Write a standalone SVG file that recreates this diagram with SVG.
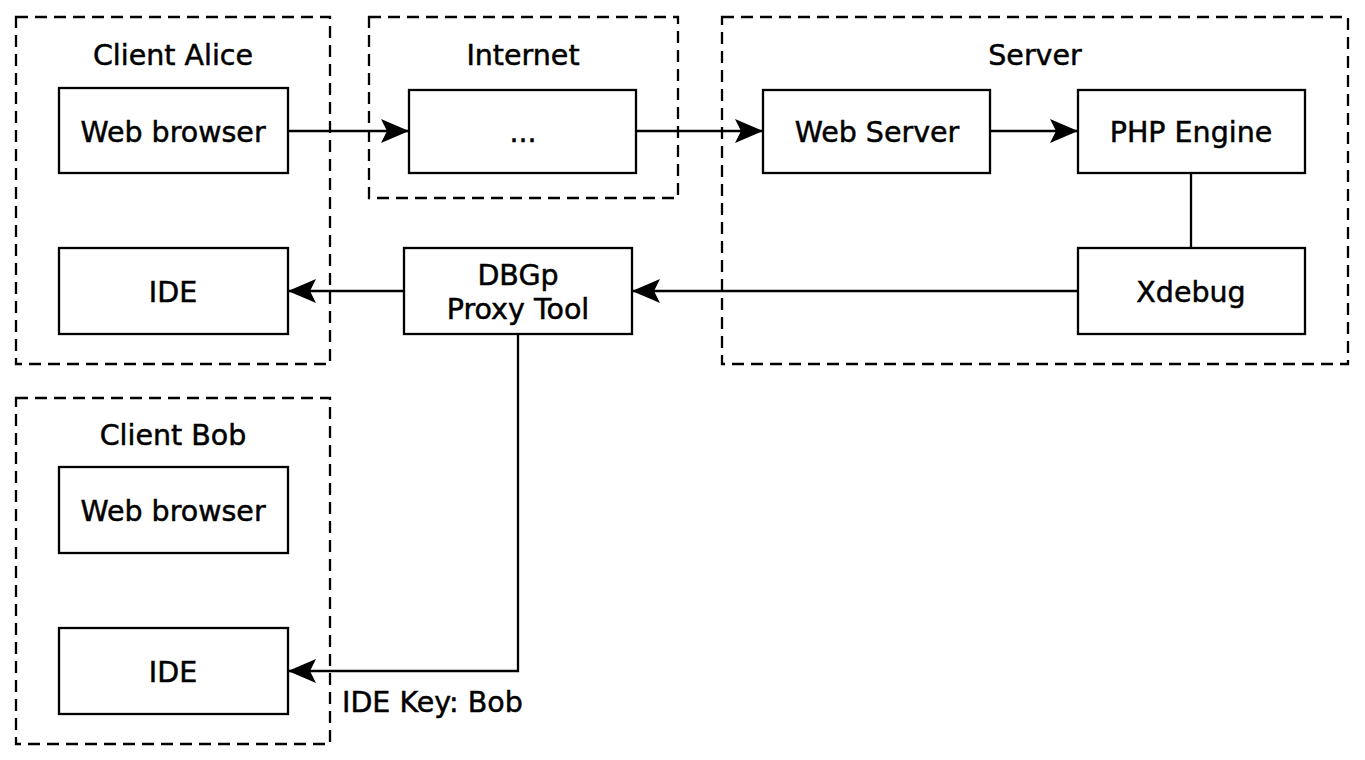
<svg xmlns="http://www.w3.org/2000/svg" width="1365" height="760" viewBox="0 0 1365 760">
<defs>
<style>
.grp{fill:none;stroke:#000;stroke-width:2.3;stroke-dasharray:12 7}
.box{fill:#fff;stroke:#000;stroke-width:2.3}
.t{font-family:"DejaVu Sans","Liberation Sans",sans-serif;font-size:28.5px;fill:#000;stroke:#000;stroke-width:0.5;text-anchor:middle}
.tl{font-family:"DejaVu Sans","Liberation Sans",sans-serif;font-size:28.5px;fill:#000;stroke:#000;stroke-width:0.5}
.edge{fill:none;stroke:#000;stroke-width:2.3}
</style>
<marker id="arr" markerUnits="userSpaceOnUse" markerWidth="30" markerHeight="26" viewBox="0 0 30 26" refX="28" refY="13" orient="auto">
<path d="M0,1 L28,13 L0,25 L6,13 Z" fill="#000"/>
</marker>
</defs>
<rect width="1365" height="760" fill="#fff"/>
<g id="group-alice">
<rect class="grp" x="16" y="17" width="314" height="347"/>
<text class="t" x="173" y="65">Client Alice</text>
</g>
<g id="group-internet">
<rect class="grp" x="369" y="17" width="309" height="181"/>
<text class="t" x="523" y="65">Internet</text>
</g>
<g id="group-server">
<rect class="grp" x="722" y="17" width="626" height="347"/>
<text class="t" x="1035" y="65">Server</text>
</g>
<g id="group-bob">
<rect class="grp" x="16" y="398" width="314" height="346"/>
<text class="t" x="173" y="445">Client Bob</text>
</g>
<g id="connectors">
<line class="edge" x1="288" y1="131" x2="409" y2="131" marker-end="url(#arr)"/>
<line class="edge" x1="636" y1="131" x2="763" y2="131" marker-end="url(#arr)"/>
<line class="edge" x1="990" y1="131" x2="1078" y2="131" marker-end="url(#arr)"/>
<line class="edge" x1="1191" y1="173" x2="1191" y2="248"/>
<line class="edge" x1="1078" y1="291" x2="632" y2="291" marker-end="url(#arr)"/>
<line class="edge" x1="404" y1="291" x2="288" y2="291" marker-end="url(#arr)"/>
<polyline class="edge" points="518,334 518,671 288,671" marker-end="url(#arr)"/>
<text class="tl" x="342" y="712">IDE Key: Bob</text>
</g>
<g id="alice-browser">
<rect class="box" x="59" y="88" width="229" height="85"/>
<text class="t" x="173" y="142">Web browser</text>
</g>
<g id="alice-ide">
<rect class="box" x="59" y="248" width="229" height="86"/>
<text class="t" x="173" y="302">IDE</text>
</g>
<g id="internet-dots">
<rect class="box" x="409" y="90" width="227" height="83"/>
<text class="t" x="523" y="142">...</text>
</g>
<g id="dbgp-proxy">
<rect class="box" x="404" y="248" width="228" height="86"/>
<text class="t" x="518" y="285">DBGp</text>
<text class="t" x="518" y="319">Proxy Tool</text>
</g>
<g id="web-server">
<rect class="box" x="763" y="90" width="227" height="83"/>
<text class="t" x="877" y="142">Web Server</text>
</g>
<g id="php-engine">
<rect class="box" x="1078" y="90" width="227" height="83"/>
<text class="t" x="1191" y="142">PHP Engine</text>
</g>
<g id="xdebug">
<rect class="box" x="1078" y="248" width="227" height="86"/>
<text class="t" x="1191" y="302">Xdebug</text>
</g>
<g id="bob-browser">
<rect class="box" x="59" y="467" width="229" height="86"/>
<text class="t" x="173" y="521">Web browser</text>
</g>
<g id="bob-ide">
<rect class="box" x="59" y="628" width="229" height="86"/>
<text class="t" x="173" y="682">IDE</text>
</g>
</svg>
